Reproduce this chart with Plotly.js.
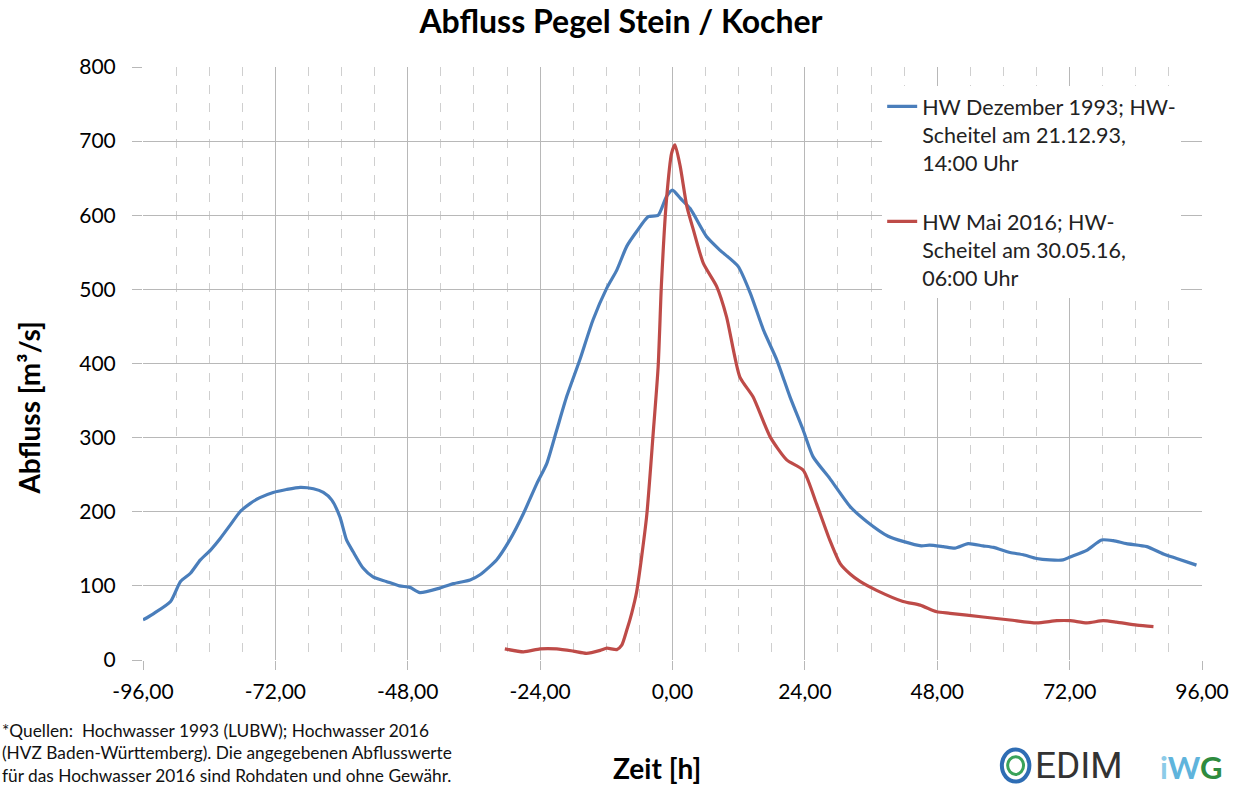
<!DOCTYPE html>
<html>
<head>
<meta charset="utf-8">
<script src="https://cdn.plot.ly/plotly-3.0.1.min.js"></script>
<style>html,body{margin:0;padding:0;background:#fff}#chart{width:1242px;height:789px}</style>
</head>
<body>
<div id="chart"></div>
<script>
// Hochwasser Dezember 1993 (Zeit relativ zum Scheitel, h)
const t1993 = [-96,-94,-91,-89.2,-87.4,-85.6,-83.8,-82,-80.2,-78.4,-76.6,-74.8,-72.4,-70,-67.5,-65.1,-63.3,-61.8,-60.3,-59.1,-57.9,-56.1,-54.3,-51.9,-49.5,-47.6,-45.8,-42.2,-39.7,-36.7,-34.9,-31.9,-29.5,-27.0,-24.6,-22.8,-21.0,-19.2,-16.8,-14.4,-11.9,-10.1,-8.3,-6.5,-4.4,-2.6,-1.1,0,1.4,3.2,6.2,8.6,11.9,14.1,16.5,18.9,21.3,23.7,25.5,28.5,32.2,35.2,39.1,41.8,45.1,46.6,49.1,51.2,53.6,56.3,58.2,61.2,63.6,66.0,68.4,70.8,72.1,75.1,77.8,79.9,82.3,86.0,89.0,91.4,95.0];
const q1993 = [54,63,79,106,117,135,148,164,182,200,211,219,226,230,233,231,226,216,193,162,146,124,112,106,100,98,91,97,103,108,115,135,162,198,238,265,310,355,405,459,502,526,558,578,598,600,625,634,623,609,571,553,531,495,445,405,355,310,274,245,207,187,167,160,154,155,153,151,157,154,152,145,142,137,135,135,139,148,162,161,157,153,143,137,128];
// Hochwasser Mai 2016
const t2016 = [-30.4,-27.0,-24.0,-21.0,-18.0,-15.6,-13.1,-11.9,-10.1,-9.2,-8.3,-7.4,-6.5,-4.7,-3.5,-2.6,-2.0,-1.1,-0.15,0.45,1.4,2.6,3.8,5.6,8.0,9.8,12.2,14.6,17.7,20.7,23.7,26.1,28.5,30.4,32.2,34.0,37.0,41.8,44.9,47.9,50.3,56.3,61.2,66.0,69.7,72.1,75.1,78.1,80.5,84.2,87.2];
const q2016 = [15,11,15,15,12,9,13,16,14,20,40,63,92,193,306,396,508,620,684,695,666,612,580,535,504,463,382,355,301,270,256,211,162,130,116,106,94,79,74,65,63,58,54,50,53,53,50,53,51,47,45];

const xTickVals = [-96,-72,-48,-24,0,24,48,72,96];
const xTickText = ['-96,00','-72,00','-48,00','-24,00','0,00','24,00','48,00','72,00','96,00'];
const seriesNames = ['HW Dezember 1993; HW-<br>Scheitel am 21.12.93,<br>14:00 Uhr', 'HW Mai 2016; HW-<br>Scheitel am 30.05.16,<br>06:00 Uhr'];

const FONT = 'Lato, "Open Sans", sans-serif';
const GRID = '#b8b8b8';

const traces = [
  {x: t1993, y: q1993, name: seriesNames[0], legendgroup: 'a', mode: 'lines', line: {color: '#4a7ebb', width: 3.2, shape: 'spline', smoothing: 0.6}},
  {x: t2016, y: q2016, name: seriesNames[1], legendgroup: 'b', mode: 'lines', line: {color: '#be4b48', width: 3.2, shape: 'spline', smoothing: 0.6}}
];

const layout = {
  width: 1242, height: 789,
  margin: {l: 143, r: 40, t: 67, b: 129},
  paper_bgcolor: '#fff', plot_bgcolor: '#fff',
  font: {family: FONT, size: 21, color: '#000'},
  title: {text: '<b>Abfluss Pegel Stein / Kocher</b>', x: 0.5, xref: 'container', xanchor: 'center', y: 0.972, yref: 'container', yanchor: 'middle', font: {family: FONT, size: 32, color: '#000'}},
  showlegend: true,
  legend: {x: 0.698, xanchor: 'left', y: 0.968, yanchor: 'top', bgcolor: '#fff', borderwidth: 0, traceorder: 'grouped', font: {family: FONT, size: 21.5, color: '#222'}, valign: 'top', tracegroupgap: 28, itemwidth: 30},
  xaxis: {
    range: [-96, 96], tickmode: 'array', tickvals: xTickVals, ticktext: xTickText,
    showgrid: true, gridcolor: GRID, gridwidth: 1, zeroline: false, showline: false,
    ticks: 'outside', ticklen: 9, tickcolor: GRID, tickfont: {family: FONT, size: 21}, ticklabelstandoff: 4,
    minor: {dtick: 6, tick0: 0, showgrid: true, gridcolor: '#cfcfcf', griddash: 'dash', gridwidth: 1, ticks: ''}
  },
  yaxis: {
    range: [0, 800], dtick: 100, tick0: 0, showgrid: true, gridcolor: GRID, gridwidth: 1,
    zeroline: false, showline: false, ticks: 'outside', ticklen: 10, tickcolor: GRID,
    tickfont: {family: FONT, size: 21}, ticklabelstandoff: 12
  },
  annotations: [
    {text: '<b>Abfluss [m³/s]</b>', xref: 'paper', yref: 'paper', x: -0.108, y: 0.425, textangle: -90, showarrow: false, font: {family: FONT, size: 28, color: '#000'}, xanchor: 'center', yanchor: 'middle'},
    {text: '<b>Zeit [h]</b>', xref: 'paper', yref: 'paper', x: 0.485, y: -0.182, showarrow: false, font: {family: FONT, size: 28, color: '#000'}, xanchor: 'center', yanchor: 'middle'},
    {text: '*Quellen:  Hochwasser 1993 (LUBW); Hochwasser 2016<br>(HVZ Baden-Württemberg). Die angegebenen Abflusswerte<br>für das Hochwasser 2016 sind Rohdaten und ohne Gewähr.', xref: 'paper', yref: 'paper', x: -0.135, y: -0.097, xanchor: 'left', yanchor: 'top', align: 'left', showarrow: false, font: {family: FONT, size: 17.3, color: '#111'}},
    {text: 'EDIM', xref: 'paper', yref: 'paper', x: 0.84, y: -0.178, xanchor: 'left', yanchor: 'middle', showarrow: false, font: {family: 'Roboto, Lato, sans-serif', size: 37, color: '#333'}},
    {text: '<b><span style="color:#8ccbe8">i</span><span style="color:#5fb4dc">W</span><span style="color:#2e8b3e">G</span></b>', xref: 'paper', yref: 'paper', x: 0.958, y: -0.18, xanchor: 'left', yanchor: 'middle', showarrow: false, font: {family: 'Lato, sans-serif', size: 31, color: '#333'}}
  ],
  shapes: [
    {type: 'circle', xref: 'paper', yref: 'paper', x0: 0.811, x1: 0.837, y0: -0.205, y1: -0.151, line: {color: '#2e6db4', width: 4}},
    {type: 'circle', xref: 'paper', yref: 'paper', x0: 0.8165, x1: 0.8315, y0: -0.193, y1: -0.163, line: {color: '#3aa35a', width: 3}}
  ]
};

Plotly.newPlot('chart', traces, layout, {displayModeBar: false, staticPlot: true});
</script>
</body>
</html>
